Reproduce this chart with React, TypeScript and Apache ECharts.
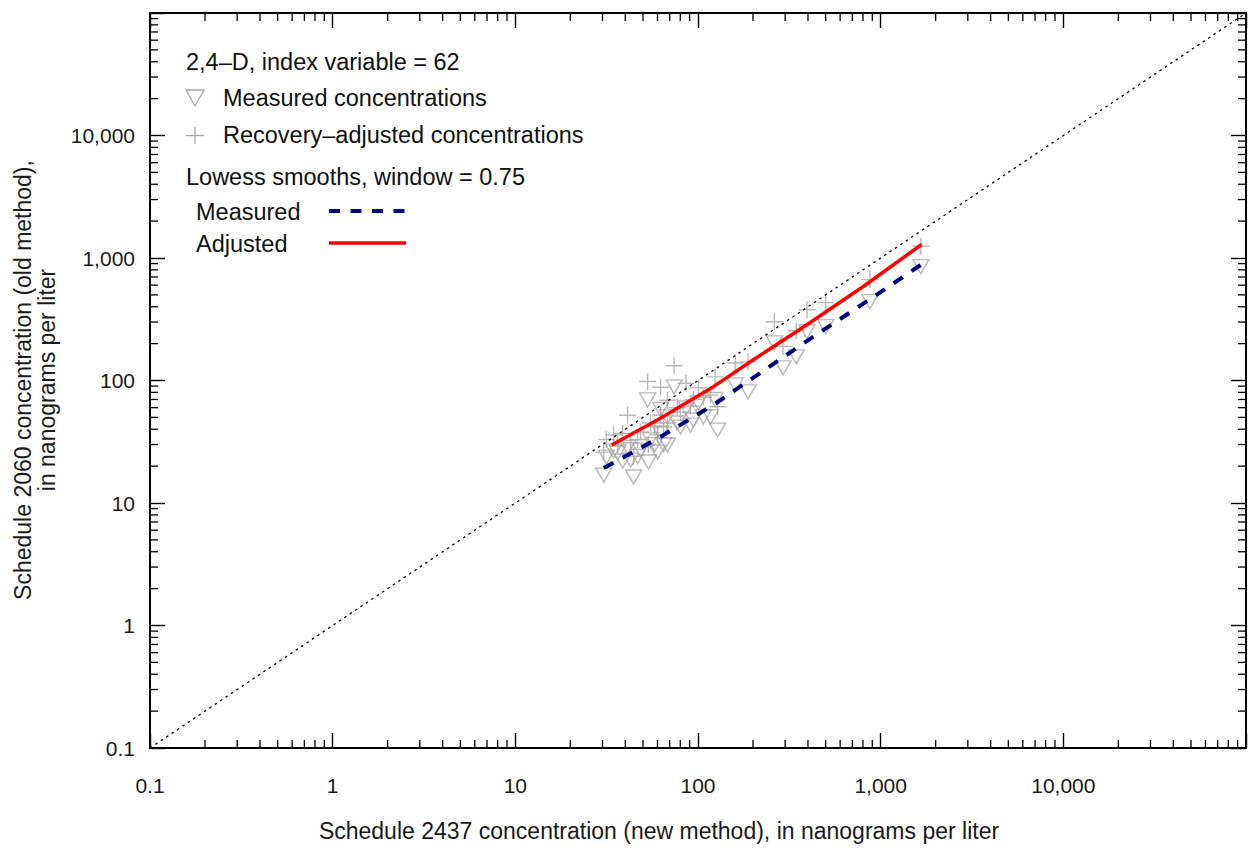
import React, { useEffect, useRef } from "react";
import * as echarts from "echarts";

// ---- Data ----
const sampleX = [30.5, 31.5, 34.5, 36.3, 38.7, 41.2, 42.8, 44.4, 46.7, 48.5, 53.0, 53.5, 55.0, 58.0, 60.1, 62.4, 62.4, 64.8, 68.1, 68.1, 74.0, 77.0, 80.2, 86.0, 90.9, 94.4, 100.5, 107, 117, 124, 128, 160, 188, 262, 292, 345, 395, 500, 873, 1660];
const measuredY = [16.9, 23.7, 26.5, 25.6, 22.0, 28.5, 22.4, 16.3, 24.0, 27.0, 69.4, 21.6, 32.7, 30.0, 26.0, 58.0, 37.3, 30.0, 29.7, 50.4, 88.7, 45.0, 41.7, 59.7, 43.3, 47.6, 65.6, 50.4, 50.4, 70.0, 39.4, 92.0, 80.7, 203, 127, 156, 250, 275, 440, 851];
const adjustedY = [26.0, 33.0, 36.0, 30.0, 37.0, 52.0, 31.0, 24.0, 33.0, 38.0, 98.0, 30.0, 45.0, 42.0, 36.0, 88.0, 52.0, 41.7, 45.0, 69.0, 132, 60.0, 55.0, 95.0, 62.0, 70.0, 87.0, 73.0, 76.0, 107, 61.0, 139, 142, 302, 190, 255, 378, 432, 666, 1250];

const smoothMeasuredX = [30.5, 60, 121, 200, 426, 900, 1660];
const smoothMeasuredY = [19.3, 33.5, 63, 105, 227, 474, 880];
const smoothAdjustedX = [33.7, 60, 121, 200, 395, 800, 1676];
const smoothAdjustedY = [29.7, 47.6, 88.7, 147, 285, 583, 1288];

const oneToOneLine = [0.1, 100000];

const tickValues = [0.1, 1, 10, 100, 1000, 10000];
const tickLabels = ["0.1", "1", "10", "100", "1,000", "10,000"];

const FONT = "'Liberation Sans', Arial, sans-serif";
const GRAY = "#a6a6a6";

function labelFor(v: number): string {
  for (let i = 0; i < tickValues.length; i++) {
    if (Math.abs(Math.log10(v) - Math.log10(tickValues[i])) < 1e-6) return tickLabels[i];
  }
  return "";
}

// minor tick positions (2..9 x each decade)
const minorTicks: number[] = [];
for (let k = -1; k <= 4; k++) {
  for (let m = 2; m <= 9; m++) minorTicks.push(Number((m * Math.pow(10, k)).toPrecision(4)));
}

export default function App() {
  const ref = useRef<HTMLDivElement>(null);
  useEffect(() => {
    const chart = echarts.init(ref.current!, null, { renderer: "svg" });

    const baseAxis = (pos: string, showLabel: boolean) => ({
      type: "log",
      logBase: 10,
      min: 0.1,
      max: 100000,
      position: pos,
      splitNumber: 6,
      axisLine: { show: true, onZero: false, lineStyle: { color: "#000", width: 2 } },
      axisTick: { show: true, inside: true, length: 15, lineStyle: { color: "#000", width: 1.4 } },
      minorTick: { show: false },
      splitLine: { show: false },
      axisLabel: {
        show: showLabel,
        fontFamily: FONT,
        fontSize: 21,
        color: "#1a1a1a",
        margin: pos === "bottom" ? 27 : 15,
        formatter: (v: number) => labelFor(v),
      },
    });

    const tri = "path://M0,0L16,0L8,14Z";
    const plus = "path://M8,0L8,16M0,8L16,8";

    const option: any = {
      animation: false,
      backgroundColor: "#fff",
      grid: { left: 150, right: 8, top: 13, bottom: 100, containLabel: false },
      xAxis: [baseAxis("bottom", true), baseAxis("top", false)],
      yAxis: [baseAxis("left", true), baseAxis("right", false)],
      series: [
        {
          type: "custom",
          silent: true,
          xAxisIndex: 0,
          yAxisIndex: 0,
          data: minorTicks.map((v) => [v, 1]),
          renderItem: (params: any, api: any) => {
            const cs = params.coordSys;
            const px = api.coord([api.value(0), 1])[0];
            const st = { stroke: "#000", lineWidth: 1.3 };
            return {
              type: "group",
              children: [
                { type: "line", shape: { x1: px, y1: cs.y + cs.height, x2: px, y2: cs.y + cs.height - 8 }, style: st },
                { type: "line", shape: { x1: px, y1: cs.y, x2: px, y2: cs.y + 8 }, style: st },
              ],
            };
          },
        },
        {
          type: "custom",
          silent: true,
          xAxisIndex: 0,
          yAxisIndex: 0,
          data: minorTicks.map((v) => [1, v]),
          renderItem: (params: any, api: any) => {
            const cs = params.coordSys;
            const py = api.coord([1, api.value(1)])[1];
            const st = { stroke: "#000", lineWidth: 1.3 };
            return {
              type: "group",
              children: [
                { type: "line", shape: { x1: cs.x, y1: py, x2: cs.x + 8, y2: py }, style: st },
                { type: "line", shape: { x1: cs.x + cs.width, y1: py, x2: cs.x + cs.width - 8, y2: py }, style: st },
              ],
            };
          },
        },
        {
          name: "Measured concentrations",
          type: "scatter",
          silent: true,
          symbol: tri,
          symbolSize: [16, 14],
          itemStyle: { color: "transparent", borderColor: GRAY, borderWidth: 1.4 },
          data: sampleX.map((x, i) => [x, measuredY[i]]),
        },
        {
          name: "Recovery-adjusted concentrations",
          type: "scatter",
          silent: true,
          symbol: plus,
          symbolSize: 17,
          itemStyle: { color: "transparent", borderColor: GRAY, borderWidth: 1.4 },
          data: sampleX.map((x, i) => [x, adjustedY[i]]),
        },
        {
          type: "line",
          silent: true,
          symbol: "none",
          lineStyle: { color: "#000", width: 1.3, type: [2.5, 4] },
          data: oneToOneLine.map((v) => [v, v]),
        },
        {
          name: "Measured",
          type: "line",
          silent: true,
          symbol: "none",
          lineStyle: { color: "#000080", width: 4, type: [11, 10.5] },
          data: smoothMeasuredX.map((x, i) => [x, smoothMeasuredY[i]]),
        },
        {
          name: "Adjusted",
          type: "line",
          silent: true,
          symbol: "none",
          lineStyle: { color: "#ff0000", width: 3.5 },
          data: smoothAdjustedX.map((x, i) => [x, smoothAdjustedY[i]]),
        },
      ],
      graphic: [
        txt("2,4\u2013D, index variable = 62", 186, 62),
        {
          type: "polygon",
          shape: { points: [[186, 90], [204, 90], [195, 106]] },
          style: { fill: "none", stroke: GRAY, lineWidth: 1.3 },
        },
        txt("Measured concentrations", 223, 98),
        { type: "line", shape: { x1: 195, y1: 127, x2: 195, y2: 144 }, style: { stroke: GRAY, lineWidth: 1.3 } },
        { type: "line", shape: { x1: 186, y1: 135.5, x2: 204, y2: 135.5 }, style: { stroke: GRAY, lineWidth: 1.3 } },
        txt("Recovery\u2013adjusted concentrations", 223, 135),
        txt("Lowess smooths, window = 0.75", 186, 177),
        txt("Measured", 196, 212),
        {
          type: "line",
          shape: { x1: 329, y1: 211, x2: 406, y2: 211 },
          style: { stroke: "#000080", lineWidth: 4, lineDash: [11, 10.5] },
        },
        txt("Adjusted", 196, 244),
        {
          type: "line",
          shape: { x1: 329, y1: 243, x2: 406, y2: 243 },
          style: { stroke: "#ff0000", lineWidth: 3.5 },
        },
        {
          type: "text",
          x: 659,
          y: 831,
          style: {
            text: "Schedule 2437 concentration (new method), in nanograms per liter",
            fontFamily: FONT,
            fontSize: 23,
            fill: "#1a1a1a",
            textAlign: "center",
            textVerticalAlign: "middle",
            align: "center",
            verticalAlign: "middle",
          },
        },
        {
          type: "text",
          x: 23,
          y: 380,
          rotation: Math.PI / 2,
          style: {
            text: "Schedule 2060 concentration (old method),",
            fontFamily: FONT,
            fontSize: 23,
            fill: "#1a1a1a",
            textAlign: "center",
            textVerticalAlign: "middle",
            align: "center",
            verticalAlign: "middle",
          },
        },
        {
          type: "text",
          x: 47,
          y: 380,
          rotation: Math.PI / 2,
          style: {
            text: "in nanograms per liter",
            fontFamily: FONT,
            fontSize: 23,
            fill: "#1a1a1a",
            textAlign: "center",
            textVerticalAlign: "middle",
            align: "center",
            verticalAlign: "middle",
          },
        },
      ],
    };

    function txt(text: string, x: number, y: number) {
      return {
        type: "text",
        x,
        y,
        style: {
          text,
          fontFamily: FONT,
          fontSize: 23.5,
          fill: "#111",
          textAlign: "left",
          textVerticalAlign: "middle",
          align: "left",
          verticalAlign: "middle",
        },
      };
    }

    chart.setOption(option);
    return () => chart.dispose();
  }, []);
  return <div ref={ref} style={{ position: "fixed", left: 0, top: 0, width: 1254, height: 848 }} />;
}
